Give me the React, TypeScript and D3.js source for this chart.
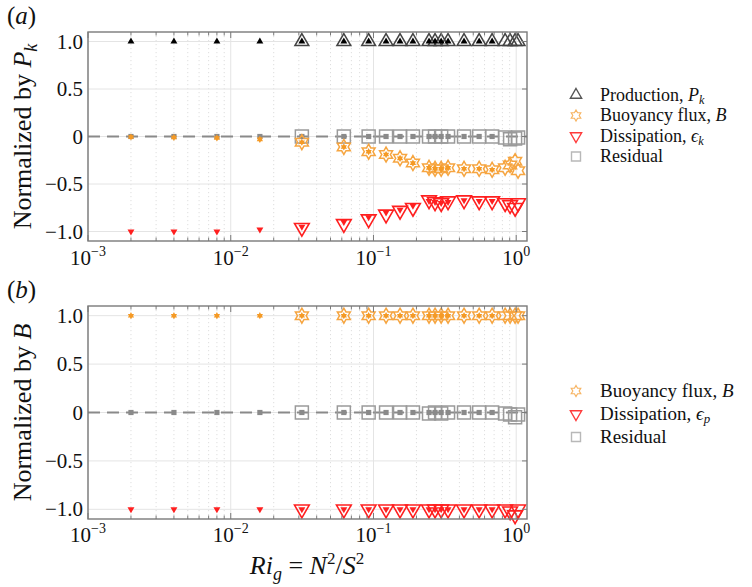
import * as d3 from 'd3'

// x positions (Ri_g) for the small filled markers and the large open markers
const xSmall = [0.002, 0.004, 0.008, 0.016, 0.0315, 0.062, 0.0925, 0.1225, 0.1535, 0.189, 0.245, 0.27, 0.298, 0.333, 0.431, 0.55, 0.678]
const xLarge = [0.0315, 0.062, 0.0925, 0.1225, 0.1535, 0.189, 0.245, 0.27, 0.298, 0.333, 0.431, 0.55, 0.678, 0.836, 0.906, 0.982, 1.03]

// panel (a): normalized by P_k
const prodSmallA = [1, 1, 1, 1, 1, 1, 1, 1, 1, 1, 1, 1, 1, 1, 1, 1, 1]
const buoySmallA = [-0.005, -0.01, -0.015, -0.03, -0.06, -0.11, -0.16, -0.19, -0.23, -0.28, -0.33, -0.34, -0.34, -0.33, -0.34, -0.34, -0.35]
const dissSmallA = [-1.0, -1.0, -1.0, -0.98, -0.95, -0.9, -0.85, -0.8, -0.77, -0.73, -0.68, -0.69, -0.7, -0.69, -0.67, -0.68, -0.68]
const resSmallA = [0, 0, 0, 0, 0, 0, 0, 0, 0, 0, 0, 0, 0, 0, 0, 0, 0]

const prodLargeA = [1, 1, 1, 1, 1, 1, 1, 1, 1, 1, 1, 1, 1, 1, 1, 1, 1]
const buoyLargeA = [-0.06, -0.11, -0.16, -0.19, -0.23, -0.28, -0.33, -0.34, -0.34, -0.33, -0.34, -0.34, -0.35, -0.33, -0.3, -0.26, -0.36]
const dissLargeA = [-0.96, -0.92, -0.87, -0.82, -0.78, -0.75, -0.67, -0.69, -0.7, -0.68, -0.67, -0.68, -0.68, -0.7, -0.72, -0.75, -0.7]
const resLargeA = [0, 0, 0, 0, 0, 0, 0, 0, 0, 0, 0, 0, 0, -0.01, -0.03, -0.02, -0.01]

// panel (b): normalized by B
const buoySmallB = [1, 1, 1, 1, 1, 1, 1, 1, 1, 1, 1, 1, 1, 1, 1, 1, 1]
const dissSmallB = [-1, -1, -1, -1, -1, -1, -1, -1, -1, -1, -1, -1, -1, -1, -1, -1, -1]
const resSmallB = [0, 0, 0, 0, 0, 0, 0, 0, 0, 0, 0, 0, 0, 0, 0, 0, 0]

const buoyLargeB = [1, 1, 1, 1, 1, 1, 1, 1, 1, 1, 1, 1, 1, 1, 1, 1, 1]
const dissLargeB = [-1, -1, -1, -1, -1, -1, -1, -1, -1, -1, -1, -1, -1, -1, -1.02, -1.06, -1]
const resLargeB = [0, 0, 0, 0, 0, 0, -0.01, 0, -0.01, 0, 0, 0, 0, -0.01, -0.02, -0.05, -0.02]

const yTicks = [1, 0.5, 0, -0.5, -1]
const yTickLabels = ['1.0', '0.5', '0', '\u22120.5', '\u22121.0']
const xTicks = [1e-3, 1e-2, 1e-1, 1]
const xTickExp = ['\u22123', '\u22122', '\u22121', '0']

const FONT = '"Liberation Serif", "DejaVu Serif", serif'
const ORANGE = '#f6a540'
const ORANGE_FILL = '#f59a25'
const RED = '#ff1f1f'
const GRAY = '#9a9a9a'

const left = 88
const right = 527
const x = d3.scaleLog().domain([1e-3, 1.19]).range([left, right])

function triPath(r: number, down = false) {
  const s = down ? -1 : 1
  const h = r * Math.sqrt(3) / 2
  return `M0,${-r * s}L${h},${(r / 2) * s}L${-h},${(r / 2) * s}Z`
}

function hexPath(R: number) {
  const pts: [number, number][] = []
  for (let i = 0; i < 12; i++) {
    const a = -Math.PI / 2 + (i * Math.PI) / 6
    const rr = i % 2 === 0 ? R : R / Math.sqrt(3)
    pts.push([rr * Math.cos(a), rr * Math.sin(a)])
  }
  return 'M' + pts.map(p => p.join(',')).join('L') + 'Z'
}

function sqPath(h: number) {
  return `M${-h},${-h}H${h}V${h}H${-h}Z`
}

type Series = { xs: number[]; ys: number[]; d: string; fill: string; stroke: string; sw: number; op?: number }

function Marks({ s, y }: { s: Series; y: d3.ScaleLinear<number, number> }) {
  return (
    <g>
      {s.xs.map((xv, i) => (
        <path
          key={i}
          d={s.d}
          transform={`translate(${x(xv)},${y(s.ys[i])})`}
          fill={s.fill}
          stroke={s.stroke}
          strokeWidth={s.sw}
          opacity={s.op ?? 1}
        />
      ))}
    </g>
  )
}

function Panel({ top, bottom, label, yLabel, series, tickBase }: {
  top: number; bottom: number; label: string; yLabel: [string, string, string]; series: Series[]; tickBase: number
}) {
  const y = d3.scaleLinear().domain([-1.1, 1.1]).range([bottom, top])
  const minor = x.ticks().filter(t => !xTicks.some(m => Math.abs(m - t) / t < 1e-6))
  const yMid = (top + bottom) / 2
  return (
    <g>
      {/* grid */}
      {minor.map((t, i) => (
        <line key={'mg' + i} x1={x(t)} x2={x(t)} y1={top} y2={bottom} stroke="#dedede" strokeWidth={1} strokeDasharray="1.2,2.8" />
      ))}
      {xTicks.map((t, i) => (
        <line key={'xg' + i} x1={x(t)} x2={x(t)} y1={top} y2={bottom} stroke="#e4e4e4" strokeWidth={1} />
      ))}
      {yTicks.map((t, i) => (
        <line key={'yg' + i} x1={left} x2={right} y1={y(t)} y2={y(t)} stroke="#e4e4e4" strokeWidth={1} />
      ))}
      {/* zero line */}
      <line x1={left} x2={right} y1={y(0)} y2={y(0)} stroke="#8a8a8a" strokeWidth={1.8} strokeDasharray="12,7" />
      {series.map((s, i) => <Marks key={i} s={s} y={y} />)}
      {/* frame */}
      <rect x={left} y={top} width={right - left} height={bottom - top} fill="none" stroke="#7a7a7a" strokeWidth={1.4} />
      {/* ticks */}
      {minor.map((t, i) => (
        <g key={'mt' + i}>
          <line x1={x(t)} x2={x(t)} y1={top} y2={top + 3.5} stroke="#7a7a7a" strokeWidth={1} />
          <line x1={x(t)} x2={x(t)} y1={bottom} y2={bottom - 3.5} stroke="#7a7a7a" strokeWidth={1} />
        </g>
      ))}
      {xTicks.map((t, i) => (
        <g key={'xt' + i}>
          <line x1={x(t)} x2={x(t)} y1={top} y2={top + 6} stroke="#7a7a7a" strokeWidth={1} />
          <line x1={x(t)} x2={x(t)} y1={bottom} y2={bottom - 6} stroke="#7a7a7a" strokeWidth={1} />
          <text x={x(t)} y={tickBase} textAnchor="middle" fontFamily={FONT} fontSize={21} fill="#111">
            10<tspan dy={-9} fontSize={14}>{xTickExp[i]}</tspan>
          </text>
        </g>
      ))}
      {yTicks.map((t, i) => (
        <g key={'yt' + i}>
          <line x1={right} x2={right - 5} y1={y(t)} y2={y(t)} stroke="#7a7a7a" strokeWidth={1} />
          <text x={83} y={y(t) + 7} textAnchor="end" fontFamily={FONT} fontSize={21} fill="#111">{yTickLabels[i]}</text>
        </g>
      ))}
      {/* y label */}
      <text transform={`translate(31,${yMid}) rotate(-90)`} textAnchor="middle" fontFamily={FONT} fontSize={26} fill="#111">
        {yLabel[0]}<tspan fontStyle="italic">{yLabel[1]}</tspan>
        <tspan fontStyle="italic" fontSize={18} dy={6}>{yLabel[2]}</tspan>
      </text>
      {/* panel label */}
      <text x={7} y={top - 8} fontFamily={FONT} fontSize={25} fill="#111">
        (<tspan fontStyle="italic">{label}</tspan>)
      </text>
    </g>
  )
}

type LegendItem = { d: string; stroke: string; sw: number; text: string; sym: string; sub: string }

function Legend({ rows, items, size }: { rows: number[]; items: LegendItem[]; size: number }) {
  return (
    <g>
      {items.map((it, i) => (
        <g key={i}>
          <path d={it.d} transform={`translate(576,${rows[i]})`} fill="none" stroke={it.stroke} strokeWidth={it.sw} />
          <text x={600} y={rows[i] + size * 0.32} fontFamily={FONT} fontSize={size} fill="#111">
            {it.text}<tspan fontStyle="italic">{it.sym}</tspan>
            {it.sub ? <tspan fontStyle="italic" fontSize={size * 0.68} dy={3}>{it.sub}</tspan> : null}
          </text>
        </g>
      ))}
    </g>
  )
}

export default function App() {
  const largeTri = triPath(8)
  const smallTri = triPath(4)
  const largeHex = hexPath(7.5)
  const smallHex = hexPath(3.6)
  const largeSq = sqPath(6.5)
  const smallSq = sqPath(2.6)

  const seriesA: Series[] = [
    { xs: xLarge, ys: resLargeA, d: largeSq, fill: 'none', stroke: GRAY, sw: 1.5 },
    { xs: xSmall, ys: resSmallA, d: smallSq, fill: '#8a8a8a', stroke: 'none', sw: 0 },
    { xs: xLarge, ys: buoyLargeA, d: largeHex, fill: 'none', stroke: ORANGE, sw: 1.5 },
    { xs: xSmall, ys: buoySmallA, d: smallHex, fill: ORANGE_FILL, stroke: 'none', sw: 0 },
    { xs: xLarge, ys: dissLargeA, d: triPath(8.5, true), fill: 'none', stroke: RED, sw: 1.6 },
    { xs: xSmall, ys: dissSmallA, d: triPath(4, true), fill: RED, stroke: 'none', sw: 0 },
    { xs: xLarge, ys: prodLargeA, d: largeTri, fill: 'none', stroke: '#444', sw: 1.5 },
    { xs: xSmall, ys: prodSmallA, d: smallTri, fill: '#000', stroke: 'none', sw: 0 },
  ]
  const seriesB: Series[] = [
    { xs: xLarge, ys: resLargeB, d: largeSq, fill: 'none', stroke: GRAY, sw: 1.5 },
    { xs: xSmall, ys: resSmallB, d: smallSq, fill: '#8a8a8a', stroke: 'none', sw: 0 },
    { xs: xLarge, ys: buoyLargeB, d: largeHex, fill: 'none', stroke: ORANGE, sw: 1.5 },
    { xs: xSmall, ys: buoySmallB, d: smallHex, fill: ORANGE_FILL, stroke: 'none', sw: 0 },
    { xs: xLarge, ys: dissLargeB, d: triPath(8.5, true), fill: 'none', stroke: RED, sw: 1.6 },
    { xs: xSmall, ys: dissSmallB, d: triPath(4, true), fill: RED, stroke: 'none', sw: 0 },
  ]

  const legA: LegendItem[] = [
    { d: triPath(6.5), stroke: '#555', sw: 1.4, text: 'Production, ', sym: 'P', sub: 'k' },
    { d: hexPath(5.5), stroke: '#f7b462', sw: 1.2, text: 'Buoyancy flux, ', sym: 'B', sub: '' },
    { d: triPath(6.5, true), stroke: '#ff3a3a', sw: 1.4, text: 'Dissipation, ', sym: '\u03f5', sub: 'k' },
    { d: sqPath(4.5), stroke: '#b8b8b8', sw: 1.4, text: 'Residual', sym: '', sub: '' },
  ]
  const legB: LegendItem[] = [
    { d: hexPath(5.5), stroke: '#f7b462', sw: 1.2, text: 'Buoyancy flux, ', sym: 'B', sub: '' },
    { d: triPath(6.5, true), stroke: '#ff3a3a', sw: 1.4, text: 'Dissipation, ', sym: '\u03f5', sub: 'p' },
    { d: sqPath(4.5), stroke: '#b8b8b8', sw: 1.4, text: 'Residual', sym: '', sub: '' },
  ]

  return (
    <div style={{ position: 'fixed', left: 0, top: 0 }}>
      <svg width={752} height={587} style={{ display: 'block', background: '#fff' }}>
        <Panel top={32} bottom={241} label="a" yLabel={['Normalized by ', 'P', 'k']} series={seriesA} tickBase={265} />
        <Panel top={306} bottom={519} label="b" yLabel={['Normalized by ', 'B', '']} series={seriesB} tickBase={542} />
        <Legend rows={[95, 115.5, 136, 156.5]} items={legA} size={18} />
        <Legend rows={[391, 414, 437]} items={legB} size={19} />
        <text x={307} y={574} textAnchor="middle" fontFamily={FONT} fontSize={26} fill="#111">
          <tspan fontStyle="italic">Ri</tspan>
          <tspan fontStyle="italic" fontSize={18} dy={6}>g</tspan>
          <tspan dy={-6}> = </tspan>
          <tspan fontStyle="italic">N</tspan>
          <tspan fontSize={17} dy={-10}>2</tspan>
          <tspan dy={10}>/</tspan>
          <tspan fontStyle="italic">S</tspan>
          <tspan fontSize={17} dy={-10}>2</tspan>
        </text>
      </svg>
    </div>
  )
}
